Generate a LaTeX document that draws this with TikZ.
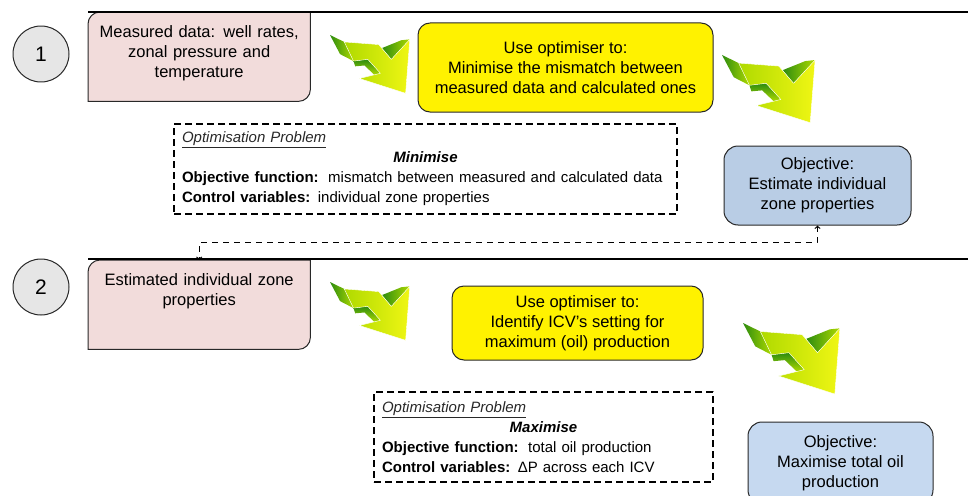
\documentclass[tikz,border=0pt]{standalone}
\usepackage{fontspec}
\setmainfont{Liberation Sans}
\usetikzlibrary{backgrounds}

\definecolor{inpink}{RGB}{242,220,219}
\definecolor{goalblue}{RGB}{185,205,229}
\definecolor{goalpale}{RGB}{198,217,240}
\definecolor{numgrey}{RGB}{230,230,230}
\definecolor{rim}{RGB}{40,40,40}
\definecolor{arrowlight}{RGB}{240,246,20}
\definecolor{arrowmid}{RGB}{175,218,0}
\definecolor{arrowdark}{RGB}{45,140,15}

\begin{document}
\begin{tikzpicture}[x=1pt,y=1pt,line join=round]
	\tikzstyle{num}=[circle,draw=rim,fill=numgrey,line width=1pt,minimum size=56pt,inner sep=0pt,font=\fontsize{21}{24}\selectfont];
	\tikzstyle{inbox}=[anchor=north west,text width=214pt,inner xsep=4pt,inner ysep=13pt,text height=12pt,text depth=51pt,align=center,font=\fontsize{16.5}{20}\selectfont];
	\tikzstyle{inshape}=[draw=rim,fill=inpink,line width=1pt];
	\tikzstyle{optbox}=[rounded corners=12pt,draw=rim,fill=yellow,line width=1pt,align=center,font=\fontsize{16.5}{20}\selectfont];
	\tikzstyle{goalbox}=[rounded corners=14pt,draw=rim,line width=1pt,align=center,font=\fontsize{16.5}{20}\selectfont];
	\tikzstyle{probbox}=[draw,line width=1.6pt,dash pattern=on 7pt off 4pt,inner xsep=8pt,minimum height=90pt,align=left,font=\fontsize{15}{20}\selectfont];
	\tikzstyle{link}=[line width=1.2pt,dash pattern=on 6pt off 5pt];
	\tikzstyle{rule}=[line width=2.2pt];
	\tikzset{bend arrow/.pic={
		%% side faces
		\shade[left color=arrowdark,right color=arrowmid] (0,0) -- (17,-8) -- (28,-30) -- (12,-22) -- cycle;
		\shade[left color=arrowdark,right color=arrowmid] (62,-15) -- (73,-28) -- (95,-5) -- (85,-6) -- cycle;
		\shade[top color=arrowdark,bottom color=arrowmid] (28,-30) -- (45,-28) -- (60,-44) -- (53,-46) -- (41,-35) -- (30,-36) -- cycle;
		%% top face
		\shadedraw[draw=white,line width=0.4pt,left color=arrowmid,right color=arrowlight]
			(17,-8) -- (58,-11) -- (73,-28) -- (95,-5) -- (90,-67)
			-- (35,-50) -- (60,-44) -- (45,-28) -- (28,-30) -- cycle;
	}}

	\useasboundingbox (0,0) rectangle (968,-495);
	\clip (0,0) rectangle (968,-495);

	%% Rules
	\draw[rule] (88,-12) -- (968,-12);
	\draw[rule] (88,-259) -- (968,-259);

	%% Step 1
	\node[num] (n1) at (41,-54) {1};
	\node[inbox] (meas) at (88,-12) {Measured data: well rates,\\zonal pressure and\\temperature};
	\node[optbox,minimum width=295pt,minimum height=89pt] (opt1) at (565.5,-67.5)
		{Use optimiser to:\\Minimise the mismatch between\\measured data and calculated ones};
	\node[goalbox,fill=goalblue,minimum width=187pt,minimum height=79pt] (obj1) at (817.5,-185.5)
		{Objective:\\Estimate individual\\zone properties};
	\node[probbox,text width=487pt] (prob1) at (425.5,-169) {%
		{\color{rim}\underline{\textit{Optimisation Problem}}}\\
		\makebox[\linewidth]{\textbf{\textit{Minimise}}}\\
		\textbf{Objective function:}\hspace{2pt} mismatch between measured and calculated data\\
		\textbf{Control variables:} individual zone properties};
	\pic[xscale=0.84,yscale=0.87] (arr1) at (330,-35) {bend arrow};
	\pic[xscale=0.98,yscale=1.01] (arr2) at (722,-55) {bend arrow};

	%% Step 2
	\node[num] (n2) at (41,-287) {2};
	\node[inbox] (est) at (88,-260) {Estimated individual zone\\properties};
	\node[optbox,minimum width=251pt,minimum height=74pt] (opt2) at (577.5,-323)
		{Use optimiser to:\\Identify ICV’s setting for\\maximum (oil) production};
	\node[goalbox,fill=goalpale,minimum width=185pt,minimum height=82pt] (obj2) at (840.5,-463)
		{Objective:\\Maximise total oil\\production};
	\node[probbox,text width=323pt] (prob2) at (543.5,-437) {%
		{\color{rim}\underline{\textit{Optimisation Problem}}}\\
		\makebox[\linewidth]{\textbf{\textit{Maximise}}}\\
		\textbf{Objective function:}\hspace{2pt} total oil production\\
		\textbf{Control variables:} ΔP across each ICV};
	\pic[xscale=0.84,yscale=0.87] (arr3) at (330,-282) {bend arrow};
	\pic[xscale=1.02,yscale=1.06] (arr4) at (743,-323) {bend arrow};

	%% Input boxes
	\begin{scope}[on background layer]
		\draw[inshape] (meas.south west) -- ([yshift=-12pt]meas.north west)
			arc[start angle=180,end angle=90,radius=12pt] -- (meas.north east)
			-- ([yshift=12pt]meas.south east) arc[start angle=0,end angle=-90,radius=12pt] -- cycle;
		\draw[inshape] (est.south west) -- ([yshift=-12pt]est.north west)
			arc[start angle=180,end angle=90,radius=12pt] -- (est.north east)
			-- ([yshift=12pt]est.south east) arc[start angle=0,end angle=-90,radius=12pt] -- cycle;
	\end{scope}

	%% Feedback
	\draw[link,<->] (obj1.south) -- ++(0,-17) -| (est.north);
\end{tikzpicture}
\end{document}
